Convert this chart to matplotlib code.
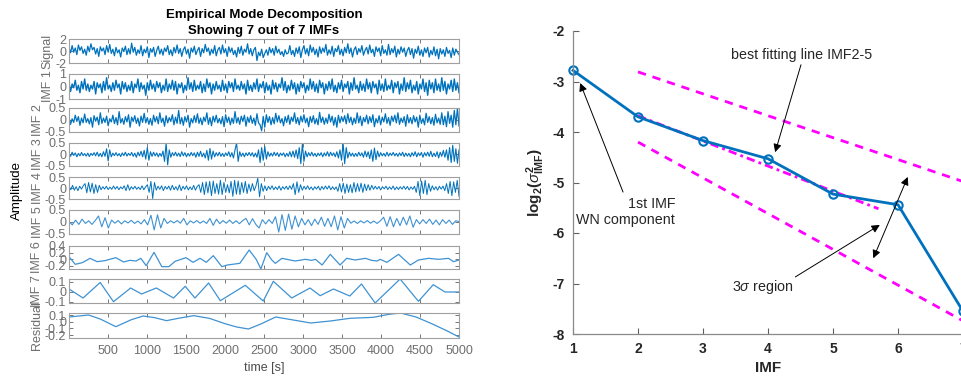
import numpy as np
import matplotlib.pyplot as plt

plt.rcParams['font.family'] = 'Liberation Sans'
plt.rcParams['axes.unicode_minus'] = False
plt.rcParams['mathtext.fontset'] = 'custom'
plt.rcParams['mathtext.rm'] = 'Liberation Sans'
plt.rcParams['mathtext.it'] = 'Liberation Sans:italic'
plt.rcParams['mathtext.bf'] = 'Liberation Sans:bold'

# ---------------- left panel data ----------------
signal = [
 0.6,-0.3,0.9,-0.2,0.5,-0.6,1.0,0.1,0.7,-0.4,
 0.3,-0.7,0.8,-0.1,1.2,0.2,0.6,-0.5,0.4,-0.9,
 0.7,0.0,0.5,-0.6,0.9,-0.2,1.1,-0.4,0.3,-0.8,
 0.6,-0.3,0.2,-1.0,0.5,-0.1,0.8,-0.6,0.4,-0.5,
 1.3,-0.2,0.6,-0.7,0.2,-0.4,0.9,-0.8,0.3,-0.3,
 0.7,-1.1,0.4,-0.2,0.6,-0.9,0.1,0.8,-0.5,0.3,
 -0.7,0.5,-0.1,0.9,-0.6,0.2,-0.8,0.6,-0.3,1.0,
 -0.4,0.4,-0.9,0.2,0.7,-0.5,0.3,-1.2,0.5,-0.2,
 0.8,-0.6,0.1,0.6,-0.9,0.4,-0.3,1.1,-0.1,0.5,
 -0.7,0.3,-0.4,0.9,-0.8,0.2,0.6,-0.5,1.0,-0.3,
 0.4,-0.9,0.7,-0.2,0.5,-0.6,0.1,-1.0,0.6,-0.4,
 0.8,-0.7,0.3,-0.2,1.2,-0.5,0.4,-0.8,0.2,0.6,
 -1.6,-0.2,-0.8,0.3,-1.1,-0.4,0.2,-0.7,0.6,-0.3,
 0.4,-0.7,0.8,-0.3,0.3,-0.6,-0.1,-0.9,0.2,-0.5,
 -0.3,0.9,-0.6,0.1,-0.9,0.5,-0.4,0.7,-1.1,0.2,
 0.9,-0.5,0.4,-0.8,1.0,-0.2,0.6,-0.6,0.3,-1.0,
 0.7,-0.4,0.5,-0.2,1.1,-0.7,0.2,-0.5,0.8,-0.9,
 0.4,-0.1,0.9,-0.6,0.3,-0.8,0.6,-0.3,1.2,-0.4,
 0.5,-1.0,0.2,0.7,-0.6,0.4,-0.2,0.9,-0.7,0.1,
 0.6,-0.5,1.0,-0.3,0.3,-0.9,0.7,-0.1,0.5,-0.8,
 0.9,-0.4,0.2,-0.7,1.1,-0.6,0.4,-0.3,0.8,-1.0,
 0.3,-0.5,0.7,-0.2,0.5,-0.9,0.1,0.6,-0.6,0.4,
 -1.2,0.3,-0.4,0.8,-0.7,0.2,-0.9,0.5,-0.3,0.6,
 -1.0,0.1,-0.6,0.7,-0.8,0.3,-1.3,0.4,-0.5,0.2,
 -0.9,0.6,-0.4,0.1,-1.1,0.5,-0.7,0.3,-0.2,-0.6]

imf1 = [
 0.3,-0.4,0.2,-0.1,0.5,-0.3,0.1,-0.5,0.4,-0.2,
 0.6,-0.3,0.2,-0.4,0.1,-0.2,0.4,-0.6,0.3,-0.1,
 0.2,-0.5,0.4,-0.3,0.7,-0.2,0.1,-0.4,0.3,-0.3,
 0.5,-0.1,0.2,-0.6,0.4,-0.2,0.3,-0.4,0.1,-0.3,
 0.4,-0.5,0.2,-0.1,0.6,-0.4,0.3,-0.2,0.1,-0.7,
 0.3,-0.3,0.5,-0.2,0.2,-0.4,0.4,-0.1,0.3,-0.5,
 0.1,-0.3,0.6,-0.4,0.2,-0.2,0.5,-0.3,0.4,-0.6,
 0.2,-0.1,0.3,-0.5,0.1,-0.3,0.7,-0.2,0.3,-0.4,
 0.5,-0.3,0.1,-0.2,0.4,-0.5,0.2,-0.4,0.6,-0.1,
 0.3,-0.6,0.2,-0.3,0.4,-0.2,0.1,-0.4,0.5,-0.3,
 0.2,-0.5,0.4,-0.1,0.3,-0.4,0.6,-0.2,0.1,-0.3,
 0.4,-0.2,0.2,-0.6,0.5,-0.3,0.1,-0.4,0.3,-0.2,
 0.6,-0.4,0.2,-0.1,0.4,-0.5,0.3,-0.3,0.1,-0.6,
 0.5,-0.2,0.3,-0.4,0.2,-0.1,0.7,-0.3,0.4,-0.5,
 0.1,-0.3,0.5,-0.2,0.3,-0.6,0.2,-0.4,0.4,-0.1,
 0.3,-0.5,0.1,-0.3,0.6,-0.2,0.4,-0.4,0.2,-0.5,
 0.5,-0.1,0.3,-0.6,0.2,-0.3,0.4,-0.2,0.6,-0.4,
 0.1,-0.5,0.3,-0.2,0.5,-0.4,0.2,-0.1,0.4,-0.6,
 0.3,-0.3,0.7,-0.2,0.1,-0.5,0.4,-0.3,0.2,-0.4,
 0.6,-0.2,0.3,-0.5,0.4,-0.1,0.2,-0.6,0.5,-0.3,
 0.2,-0.4,0.6,-0.3,0.1,-0.2,0.5,-0.5,0.3,-0.1,
 0.4,-0.6,0.2,-0.3,0.7,-0.4,0.3,-0.2,0.5,-0.5,
 0.1,-0.3,0.4,-0.6,0.2,-0.2,0.6,-0.4,0.3,-0.7,
 0.5,-0.2,0.3,-0.5,0.6,-0.3,0.2,-0.4,0.7,-0.3,
 0.4,-0.6,0.2,-0.2,0.5,-0.4,0.6,-0.3,0.3,-0.5]

imf2 = [
 0.12,-0.18,0.05,-0.1,0.2,-0.06,0.14,-0.22,0.08,-0.12,
 0.25,-0.1,0.06,-0.16,0.1,-0.3,0.18,-0.05,0.12,-0.2,
 0.3,-0.14,0.08,-0.1,0.16,-0.24,0.05,-0.08,0.2,-0.15,
 0.1,-0.2,0.35,-0.12,0.06,-0.18,0.14,-0.08,0.22,-0.3,
 0.12,-0.06,0.18,-0.14,0.08,-0.25,0.16,-0.1,0.28,-0.12,
 0.1,-0.18,0.06,-0.22,0.2,-0.08,0.14,-0.16,0.3,-0.1,
 0.08,-0.26,0.18,-0.12,0.1,-0.06,0.22,-0.2,0.12,-0.14,
 0.4,-0.16,0.1,-0.22,0.14,-0.08,0.2,-0.3,0.06,-0.12,
 0.18,-0.1,0.26,-0.14,0.08,-0.2,0.12,-0.06,0.3,-0.18,
 0.1,-0.24,0.16,-0.08,0.2,-0.12,0.06,-0.16,0.14,-0.28,
 0.22,-0.1,0.12,-0.2,0.08,-0.14,0.35,-0.12,0.1,-0.18,
 0.16,-0.06,0.2,-0.26,0.12,-0.1,0.18,-0.14,0.08,-0.22,
 0.26,-0.12,-0.2,-0.45,0.15,-0.3,0.22,-0.1,0.14,-0.2,
 0.1,-0.16,0.28,-0.08,0.18,-0.12,0.06,-0.24,0.14,-0.1,
 0.2,-0.18,0.12,-0.06,0.3,-0.14,0.1,-0.2,0.16,-0.08,
 0.22,-0.12,0.08,-0.28,0.14,-0.1,0.18,-0.16,0.06,-0.2,
 0.32,-0.1,0.12,-0.18,0.08,-0.14,0.24,-0.08,0.16,-0.22,
 0.1,-0.3,0.2,-0.12,0.14,-0.06,0.18,-0.16,0.26,-0.1,
 0.12,-0.2,0.08,-0.14,0.3,-0.12,0.16,-0.24,0.1,-0.08,
 0.2,-0.16,0.14,-0.1,0.22,-0.28,0.06,-0.12,0.18,-0.2,
 0.12,-0.08,0.26,-0.14,0.1,-0.22,0.16,-0.06,0.2,-0.12,
 0.3,-0.18,0.08,-0.1,0.14,-0.26,0.22,-0.12,0.1,-0.16,
 0.18,-0.08,0.12,-0.3,0.2,-0.14,0.06,-0.2,0.28,-0.1,
 0.14,-0.16,0.1,-0.22,0.24,-0.12,0.08,-0.18,0.3,-0.2,
 0.16,-0.28,0.35,-0.14,0.2,-0.3,0.4,-0.2,0.5,-0.25]

imf3 = [
 0.06,-0.08,0.1,-0.04,0.07,-0.1,0.05,-0.06,0.09,-0.05,
 0.04,-0.07,0.06,-0.09,0.05,-0.04,0.08,-0.06,0.1,-0.08,
 0.05,-0.1,0.12,-0.08,0.25,-0.28,0.2,-0.1,0.06,-0.05,
 0.08,-0.06,0.04,-0.09,0.07,-0.05,0.1,-0.07,0.05,-0.04,
 0.09,-0.08,0.06,-0.12,0.1,-0.06,0.14,-0.1,0.18,-0.2,
 0.3,-0.25,0.12,-0.08,0.1,-0.06,0.07,-0.1,0.05,-0.08,
 0.15,-0.3,0.5,-0.45,0.2,-0.12,0.08,-0.05,0.1,-0.07,
 0.06,-0.09,0.12,-0.06,0.08,-0.1,0.05,-0.07,0.09,-0.05,
 0.07,-0.12,0.1,-0.08,0.14,-0.1,0.06,-0.15,0.18,-0.25,
 0.26,-0.2,0.15,-0.1,0.08,-0.06,0.1,-0.08,0.05,-0.09,
 0.07,-0.05,0.12,-0.1,0.08,-0.15,0.2,0.5,-0.3,0.12,
 -0.08,0.06,-0.1,0.07,-0.05,0.09,-0.06,0.08,-0.1,0.06,
 -0.12,0.2,-0.35,0.3,-0.25,0.35,-0.2,0.12,-0.08,0.06,
 -0.07,0.1,-0.05,0.08,-0.09,0.06,-0.04,0.07,-0.1,0.05,
 -0.08,0.12,-0.1,0.15,-0.12,0.2,-0.18,0.3,-0.4,0.45,
 -0.3,0.15,-0.1,0.08,-0.06,0.1,-0.07,0.05,-0.09,0.06,
 -0.05,0.08,-0.1,0.07,-0.06,0.12,-0.08,0.1,-0.05,0.07,
 -0.1,0.12,-0.15,0.2,-0.25,0.5,-0.4,0.3,-0.15,0.1,
 -0.07,0.06,-0.09,0.05,-0.08,0.1,-0.06,0.07,-0.12,0.15,
 -0.1,0.12,-0.18,0.2,-0.3,0.28,-0.22,0.15,-0.1,0.08,
 -0.06,0.05,-0.08,0.1,-0.07,0.06,-0.04,0.09,-0.06,0.05,
 -0.08,0.07,-0.05,0.1,-0.09,0.06,-0.07,0.05,-0.1,0.08,
 -0.06,0.12,-0.1,0.07,-0.05,0.09,-0.12,0.08,-0.06,0.1,
 -0.08,0.14,-0.1,0.06,-0.09,0.12,-0.15,0.1,-0.08,0.18,
 -0.12,0.2,-0.25,0.3,-0.35,0.4,-0.3,0.25,-0.38,0.2]

imf4 = [
 0.1,-0.08,0.12,-0.1,0.06,-0.12,0.08,-0.05,0.1,
 0.2,-0.22,0.25,-0.18,0.22,-0.25,0.15,-0.2,0.12,-0.08,
 0.06,-0.05,0.08,-0.07,0.04,-0.06,0.09,-0.05,0.07,-0.08,0.05,-0.04,0.1,
 -0.12,0.15,-0.1,0.06,-0.05,0.08,-0.06,0.04,-0.07,0.1,-0.08,0.05,
 0.15,-0.2,0.3,-0.48,0.25,-0.1,
 0.08,-0.06,0.1,-0.12,0.07,-0.05,0.09,-0.1,0.12,-0.08,0.06,-0.1,
 0.14,-0.12,0.08,-0.06,0.1,-0.09,0.05,-0.08,0.12,-0.1,0.07,
 0.15,-0.2,0.25,-0.3,0.28,-0.22,0.3,-0.35,0.32,-0.25,0.2,-0.28,0.35,-0.3,0.25,-0.2,0.15,
 -0.22,0.3,-0.38,0.35,-0.28,0.32,-0.3,0.25,-0.2,0.3,-0.25,0.18,-0.15,0.2,-0.12,0.1,
 0.45,-0.4,0.2,-0.15,0.1,-0.12,
 0.08,-0.06,0.1,-0.08,0.05,-0.07,0.09,-0.1,0.06,-0.05,0.08,-0.07,0.1,-0.06,
 0.2,-0.3,0.28,-0.2,0.15,
 -0.1,0.08,-0.06,0.1,-0.07,0.05,-0.09,0.06,-0.05,0.08,-0.1,0.07,-0.06,0.09,-0.05,0.1,-0.08,0.06,-0.07,0.05,
 -0.15,0.2,-0.18,0.22,-0.25,0.18,-0.2,0.15,-0.22,0.25,-0.18,0.2,-0.15,0.22,-0.2,0.18,-0.12,0.15,-0.1,0.12,
 -0.06,0.08,-0.05,0.07,-0.09,0.06,-0.04,0.08,-0.07,0.05,-0.06,0.09,-0.08,0.05,-0.07,0.06,-0.05,0.08,-0.06,0.07,-0.09,0.05,-0.06,0.08,
 -0.2,0.3,-0.35,0.32,-0.25,0.35,-0.3,0.2,-0.15,
 0.1,-0.08,0.06,-0.1,0.08,-0.05,0.09,-0.12,
 0.2,-0.25,0.3,-0.35,0.28,-0.2,0.35,-0.38]

imf5 = [
 0.02,-0.12,0.08,-0.1,0.12,-0.06,0.05,-0.1,0.06,
 0.25,-0.2,0.18,-0.25,
 0.08,-0.05,0.06,-0.08,0.05,-0.04,0.07,-0.06,0.04,-0.08,0.1,-0.12,
 0.28,-0.33,0.3,-0.25,0.15,
 -0.06,0.05,-0.04,0.06,-0.05,
 0.15,-0.12,
 0.05,-0.04,0.06,-0.05,0.04,-0.06,
 0.15,-0.14,0.12,
 -0.07,0.06,-0.05,0.08,-0.06,0.05,-0.07,0.06,
 0.15,-0.12,0.14,-0.1,
 -0.25,0.1,
 -0.08,0.1,-0.06,0.22,
 -0.42,0.31,-0.35,0.33,-0.3,0.25,-0.2,
 0.15,-0.12,0.1,-0.15,0.12,-0.1,
 0.2,-0.18,0.15,-0.2,
 0.25,-0.33,0.22,-0.25,0.15,
 -0.05,0.04,-0.06,0.05,-0.04,0.06,-0.05,0.04,-0.06,0.05,
 0.2,-0.18,0.22,-0.2,0.15,-0.15,
 0.2,-0.12,0.25,-0.22,0.1,
 -0.08,0.1,-0.06,0.12,-0.1,0.08,-0.12,0.1,-0.06,0.08,-0.1,0.05,0.02]

imf6_t = [0,80,170,270,360,460,600,700,780,860,920,990,1090,1190,1280,1360,1500,1590,1680,
          1760,1850,1960,2030,2190,2310,2400,2460,2535,2600,2645,2730,2900,3030,3110,3160,
          3245,3350,3475,3560,3670,3800,3880,3950,3990,4075,4225,4375,4480,4610,4740,4865,
          4930,5000]
imf6 = [0.08,-0.15,-0.10,0.03,-0.07,-0.04,0.05,-0.08,-0.03,-0.05,0.03,-0.19,0.21,-0.22,
        -0.22,-0.06,0.05,-0.09,0.03,-0.09,0.11,-0.22,-0.17,-0.12,0.28,0.0,-0.29,0.2,-0.02,
        -0.12,0.03,-0.05,0.0,-0.03,0.0,-0.17,0.15,-0.17,0.03,-0.02,0.03,-0.03,-0.05,0.0,
        -0.09,0.15,-0.17,-0.02,0.03,0.0,0.03,-0.07,-0.02]

imf7_t = [0,180,400,570,790,930,1120,1340,1490,1615,1790,1940,2260,2490,2620,2855,3090,
          3220,3390,3600,3750,3925,4245,4480,4670,4820,5000]
imf7 = [0.03,-0.06,0.095,-0.097,0.04,-0.02,0.04,-0.06,0.057,-0.06,0.09,-0.087,0.067,
        -0.09,0.107,-0.06,0.04,-0.037,0.03,-0.04,0.08,-0.11,0.13,-0.093,0.073,0.0,0.0]

res_t = [0,250,400,600,800,950,1100,1250,1400,1600,1800,2000,2150,2300,2450,2650,2850,
         3100,3350,3600,3900,4100,4250,4450,4650,4850,5000]
residual = [0.07,0.10,0.04,-0.075,0.03,0.085,0.06,0.015,0.05,0.09,0.05,-0.03,-0.08,-0.11,
            -0.04,0.07,0.03,-0.02,0.01,0.05,0.065,0.11,0.13,0.07,-0.03,-0.14,-0.23]

row_names = ['Signal', 'IMF 1', 'IMF 2', 'IMF 3', 'IMF 4', 'IMF 5', 'IMF 6', 'IMF 7', 'Residual']
row_ticks = [[-2, 0, 2], [-1, 0, 1], [-0.5, 0, 0.5], [-0.5, 0, 0.5], [-0.5, 0, 0.5],
             [-0.5, 0, 0.5], [-0.2, 0, 0.2, 0.4], [-0.1, 0, 0.1], [-0.2, -0.1, 0, 0.1]]
row_lims = [(-2, 2), (-1, 1), (-0.5, 0.5), (-0.5, 0.5), (-0.5, 0.5), (-0.5, 0.5),
            (-0.29, 0.4), (-0.11, 0.13), (-0.245, 0.13)]

# ---------------- right panel data ----------------
imf_idx = [1, 2, 3, 4, 5, 6, 7]
log_var = [-2.78, -3.70, -4.17, -4.53, -5.23, -5.44, -7.55]
fit_x = [2, 5.7]
fit_y = [-3.68, -5.52]
upper_x = [2, 7]
upper_y = [-2.81, -4.98]
lower_x = [2, 7]
lower_y = [-4.20, -7.74]

blue = '#0072BD'
light_blue = '#3f92d2'
W, H = 961, 378
fig = plt.figure(figsize=(9.61, 3.78), dpi=100)

tops = [39, 74, 108, 143, 177, 210, 246, 279, 313]
bots = [63, 99, 132, 166, 199, 234, 269, 303, 338]
series = [signal, imf1, imf2, imf3, imf4, imf5]
widths = [0.9, 1.0, 0.9, 0.8, 0.7, 0.8]

for i, name in enumerate(row_names):
    ax = fig.add_axes([69 / W, 1 - bots[i] / H, 390 / W, (bots[i] - tops[i]) / H])
    if i < 6:
        y = series[i]
        c = blue if i < 5 else light_blue
        ax.plot(np.linspace(0, 5000, len(y)), y, color=c, lw=widths[i])
    elif i == 6:
        ax.plot(imf6_t, imf6, color=light_blue, lw=0.9)
    elif i == 7:
        ax.plot(imf7_t, imf7, color=light_blue, lw=0.9)
    else:
        ax.plot(res_t, residual, color=light_blue, lw=0.9)
    ax.set_xlim(0, 5000)
    ax.set_ylim(*row_lims[i])
    ax.set_yticks(row_ticks[i])
    ax.set_yticklabels(['%g' % v for v in row_ticks[i]])
    ax.set_xticks(range(500, 5001, 500))
    if i < 8:
        ax.set_xticklabels([])
    ax.tick_params(direction='in', top=True, right=True, length=3, width=0.6,
                   color='#606060', labelcolor='#6e6e6e', labelsize=9, pad=2)
    ax.tick_params(axis='x', pad=5)
    for s in ax.spines.values():
        s.set_color('#a0a0a0')
        s.set_linewidth(0.8)
    ax.set_ylabel(name, fontsize=9, color='#6e6e6e', labelpad=1)

fig.text(264 / W, 1 - 15 / H, 'Empirical Mode Decomposition', ha='center', va='center',
         fontsize=9.5, fontweight='bold')
fig.text(264 / W, 1 - 31 / H, 'Showing 7 out of 7 IMFs', ha='center', va='center',
         fontsize=9.5, fontweight='bold')
fig.text(264 / W, 1 - 368 / H, 'time [s]', ha='center', va='center', fontsize=9, color='#4d4d4d')
fig.text(17 / W, 1 - 190 / H, 'Amplitude', rotation=90, ha='center', va='center', fontsize=9.5)

# ---------------- right panel ----------------
ax = fig.add_axes([573 / W, 1 - 334 / H, (963 - 573) / W, (334 - 31) / H])
ax.plot(upper_x, upper_y, color='#ff00ff', lw=2, ls=(0, (3, 2.5)))
ax.plot(lower_x, lower_y, color='#ff00ff', lw=2, ls=(0, (3, 2.5)))
ax.plot(fit_x, fit_y, color='#ff00ff', lw=2, ls=(0, (3, 1.5, 1, 1.5)))
ax.plot(imf_idx, log_var, '-o', color=blue, lw=2, ms=6, mfc='none', mew=1.5, clip_on=False)
ax.set_xlim(1, 7)
ax.set_ylim(-8, -2)
ax.set_xticks(imf_idx)
ax.set_yticks([-8, -7, -6, -5, -4, -3, -2])
ax.set_yticklabels(['-8', '-7', '-6', '-5', '-4', '-3', '-2'])
ax.spines['top'].set_visible(False)
ax.spines['right'].set_visible(False)
for s in ['left', 'bottom']:
    ax.spines[s].set_color('#8a8a8a')
    ax.spines[s].set_linewidth(0.9)
ax.tick_params(direction='in', length=4, width=0.8, color='#606060', labelcolor='#262626',
               labelsize=10, pad=6)
for lab in ax.get_xticklabels() + ax.get_yticklabels():
    lab.set_fontweight('bold')
ax.set_xlabel('IMF', fontsize=11, fontweight='bold', color='#262626', labelpad=3)
ax.set_ylabel(r'log$_\mathbf{2}$($\sigma^\mathbf{2}_\mathbf{IMF}$)', fontsize=11,
              fontweight='bold', color='#262626', labelpad=4)

arrow = dict(arrowstyle='-|>', color='black', lw=0.7, mutation_scale=12, shrinkA=0, shrinkB=0)
ax.annotate('', xy=(1.11, -3.03), xytext=(1.77, -5.19), arrowprops=arrow)
ax.text(2.57, -5.59, '1st IMF\nWN component', ha='right', va='center', fontsize=10.3,
        multialignment='right', linespacing=1.15, color='#262626')
ax.annotate('best fitting line IMF2-5', xy=(4.11, -4.40), xytext=(4.52, -2.475),
            ha='center', va='center', fontsize=10.3, color='#262626',
            arrowprops=dict(arrow, relpos=(0.5, 0)))
ax.annotate('', xy=(5.72, -5.84), xytext=(4.42, -6.87), arrowprops=arrow)
ax.text(3.92, -7.07, r'3$\sigma$ region', ha='center', va='center', fontsize=10.3, color='#262626')
ax.annotate('', xy=(6.15, -4.89), xytext=(5.62, -6.50),
            arrowprops=dict(arrow, arrowstyle='<|-|>'))

fig.savefig('out.png', dpi=100)
